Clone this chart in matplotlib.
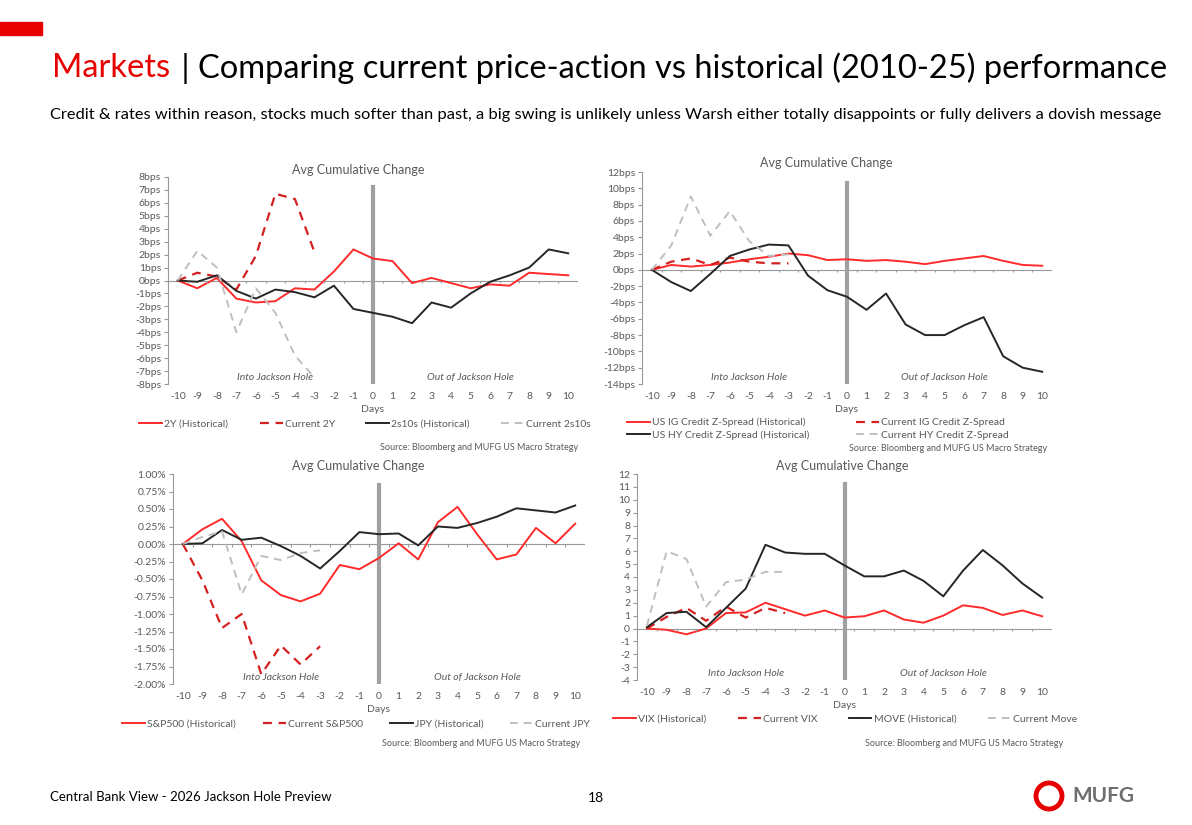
import matplotlib
matplotlib.use("Agg")
import matplotlib.pyplot as plt
from matplotlib.patches import Rectangle, Ellipse
import numpy as np

plt.rcParams['font.family'] = ['Lato', 'DejaVu Sans']

days = list(range(-10, 11))
cur_days = list(range(-10, -2))

y2_hist = [0, -0.6, 0.2, -1.4, -1.7, -1.6, -0.6, -0.7, 0.7, 2.4, 1.7, 1.5, -0.2, 0.2, -0.2, -0.6, -0.3, -0.4, 0.6, 0.5, 0.4]
y2_cur = [0, 0.6, 0.3, -0.7, 1.9, 6.7, 6.3, 2.2]
s210_hist = [0, -0.1, 0.4, -0.8, -1.4, -0.7, -0.9, -1.3, -0.4, -2.2, -2.5, -2.8, -3.3, -1.7, -2.1, -1.0, -0.1, 0.4, 1.0, 2.4, 2.1]
s210_cur = [0, 2.3, 1.0, -4.0, -0.6, -2.5, -5.8, -7.5]

ig_hist = [0, 0.6, 0.4, 0.6, 0.9, 1.3, 1.6, 2.0, 1.8, 1.2, 1.3, 1.1, 1.2, 1.0, 0.7, 1.1, 1.4, 1.7, 1.1, 0.6, 0.5]
ig_cur = [0, 1.0, 1.4, 0.6, 1.5, 1.0, 0.8, 0.8]
hy_hist = [0, -1.5, -2.6, -0.5, 1.7, 2.5, 3.1, 3.0, -0.7, -2.5, -3.3, -4.9, -2.9, -6.7, -8.0, -8.0, -6.8, -5.8, -10.6, -12.0, -12.5]
hy_cur = [0, 3.0, 9.0, 4.2, 7.2, 3.5, 1.7, 1.9]

spx_hist = [0, 0.21, 0.36, 0.04, -0.52, -0.73, -0.82, -0.71, -0.30, -0.36, -0.20, 0.01, -0.22, 0.31, 0.53, 0.14, -0.22, -0.15, 0.23, 0.01, 0.29]
spx_cur = [0, -0.52, -1.20, -1.00, -1.86, -1.45, -1.72, -1.46]
jpy_hist = [0, 0.01, 0.20, 0.06, 0.09, -0.03, -0.17, -0.35, -0.10, 0.17, 0.14, 0.15, -0.02, 0.25, 0.23, 0.30, 0.39, 0.51, 0.48, 0.45, 0.55]
jpy_cur = [0, 0.10, 0.18, -0.72, -0.17, -0.23, -0.13, -0.09]

vix_hist = [0, -0.1, -0.45, 0, 1.2, 1.25, 2.0, 1.5, 1.0, 1.4, 0.85, 0.95, 1.4, 0.7, 0.45, 1.0, 1.8, 1.6, 1.05, 1.4, 0.95]
vix_cur = [0, 0.9, 1.6, 0.6, 1.7, 0.85, 1.6, 1.2]
move_hist = [0.1, 1.2, 1.3, 0.1, 1.6, 3.1, 6.5, 5.9, 5.8, 5.8, 4.9, 4.05, 4.05, 4.5, 3.7, 2.5, 4.5, 6.1, 4.9, 3.5, 2.4]
move_cur = [0.2, 6.0, 5.4, 1.7, 3.6, 3.8, 4.4, 4.4]

RED = '#FF2A2A'
DRED = '#D42020'
BLK = '#262626'
GRY = '#BFBFBF'
TXT = '#595959'

fig = plt.figure(figsize=(11.92, 8.25), dpi=100)
W, H = 1192, 825

def box(l, t, r, b):
    return [l / W, 1 - b / H, (r - l) / W, (b - t) / H]

def panel(rect, series, labels, ylim, yticks, yfmt, leg_ncol, leg_xy, src_xy, title_xy, col_major=False, colsp=2.4):
    ax = fig.add_axes(box(*rect))
    styles = [dict(color=RED, lw=1.4), dict(color=DRED, lw=1.6, ls=(0, (4, 3))),
              dict(color=BLK, lw=1.4), dict(color=GRY, lw=1.4, ls=(0, (4, 3)))]
    lines = []
    for (x, y), st, lab in zip(series, styles, labels):
        l, = ax.plot(x, y, label=lab, **st)
        lines.append(l)
    ax.set_xlim(-10.5, 10.5)
    ax.set_ylim(*ylim)
    ax.set_yticks(yticks)
    ax.set_yticklabels([yfmt(v) for v in yticks], fontsize=7.5, color=TXT)
    ax.set_xticks(days)
    ax.set_xticklabels([str(d) for d in days], fontsize=7.5, color=TXT)
    ax.tick_params(axis='x', length=0, pad=6)
    ax.tick_params(axis='y', length=3, color='#999999', pad=2)
    for s in ['top', 'right', 'bottom']:
        ax.spines[s].set_visible(False)
    ax.spines['left'].set_color('#999999')
    ax.axhline(0, color='#999999', lw=0.8, zorder=1)
    span = ylim[1] - ylim[0]
    ax.vlines(np.arange(-10.5, 11, 1), -0.012 * span, 0, color='#999999', lw=0.8)
    ax.axvline(0, ymin=0, ymax=0.95, color='#A0A0A0', lw=3, zorder=1)
    ax.text(-5, ylim[0] + 0.01 * span, 'Into Jackson Hole', style='italic', fontsize=7.5, color=TXT, ha='center', va='bottom')
    ax.text(5, ylim[0] + 0.01 * span, 'Out of Jackson Hole', style='italic', fontsize=7.5, color=TXT, ha='center', va='bottom')
    ax.set_xlabel('Days', fontsize=7.5, color=TXT, labelpad=3)
    fig.text(title_xy[0] / W, 1 - title_xy[1] / H, 'Avg Cumulative Change', fontsize=9, color=TXT, ha='center', va='center')
    order = [lines[0], lines[2], lines[1], lines[3]] if col_major else lines
    fig.legend(handles=order, ncol=leg_ncol, loc='center', bbox_to_anchor=(leg_xy[0] / W, 1 - leg_xy[1] / H),
               frameon=False, fontsize=7.5, labelcolor=TXT, handlelength=2.2, handletextpad=0.2,
               columnspacing=colsp, borderaxespad=0, labelspacing=0.3)
    fig.text(src_xy[0] / W, 1 - src_xy[1] / H, 'Source: Bloomberg and MUFG US Macro Strategy', fontsize=6.5, color=TXT, ha='right', va='center')
    return ax

bps = lambda v: f'{v:g}bps'
panel((168, 177, 578, 384), [(days, y2_hist), (cur_days, y2_cur), (days, s210_hist), (cur_days, s210_cur)],
      ['2Y (Historical)', 'Current 2Y', '2s10s (Historical)', 'Current 2s10s'],
      (-8, 8), list(range(-8, 9)), bps, 4, (365, 424), (578, 447), (358, 170), colsp=3.0)

panel((642, 172, 1052, 384), [(days, ig_hist), (cur_days, ig_cur), (days, hy_hist), (cur_days, hy_cur)],
      ['US IG Credit Z-Spread (Historical)', 'Current IG Credit Z-Spread', 'US HY Credit Z-Spread (Historical)', 'Current HY Credit Z-Spread'],
      (-14, 12), list(range(-14, 13, 2)), bps, 2, (818, 429), (1047, 449), (826, 163), col_major=True, colsp=4.5)

panel((173, 474, 585, 684), [(days, spx_hist), (cur_days, spx_cur), (days, jpy_hist), (cur_days, jpy_cur)],
      ['S&P500 (Historical)', 'Current S&P500', 'JPY (Historical)', 'Current JPY'],
      (-2, 1), list(np.arange(-2, 1.01, 0.25)), lambda v: f'{v:.2f}%', 4, (356, 724), (580, 743), (358, 466), colsp=2.6)

panel((637, 474, 1052, 680), [(days, vix_hist), (cur_days, vix_cur), (days, move_hist), (cur_days, move_cur)],
      ['VIX (Historical)', 'Current VIX', 'MOVE (Historical)', 'Current Move'],
      (-4, 12), list(range(-4, 13)), lambda v: f'{v:g}', 4, (845, 719), (1063, 743), (842, 466), colsp=3.0)

# header
fig.patches.append(Rectangle((0, 1 - 35 / H), 42 / W, 13 / H, transform=fig.transFigure, color='#E60000'))
t1 = fig.text(52 / W, 1 - 68 / H, 'Markets', fontsize=23.5, color='#E60000', va='center')
fig.canvas.draw()
bb = t1.get_window_extent()
fig.text(bb.x1 / W + 0.002, 1 - 68 / H, ' | Comparing current price-action vs historical (2010-25) performance', fontsize=23.5, color='black', va='center')
fig.text(50 / W, 1 - 115 / H, 'Credit & rates within reason, stocks much softer than past, a big swing is unlikely unless Warsh either totally disappoints or fully delivers a dovish message',
         fontsize=11.75, color='black', va='center')

# footer
fig.text(50 / W, 1 - 797 / H, 'Central Bank View - 2026 Jackson Hole Preview', fontsize=9.5, color='black', va='center')
fig.text(596 / W, 1 - 798 / H, '18', fontsize=10, color='black', ha='center', va='center')
fig.patches.append(Ellipse((1049 / W, 1 - 796 / H), 26 / W, 26 / H, transform=fig.transFigure, fill=False, ec='#E60000', lw=3.5))
fig.text(1072 / W, 1 - 796 / H, 'MUFG', fontsize=15, fontweight='bold', color='#6E6E6E', va='center')

fig.savefig('out.png', dpi=100)
